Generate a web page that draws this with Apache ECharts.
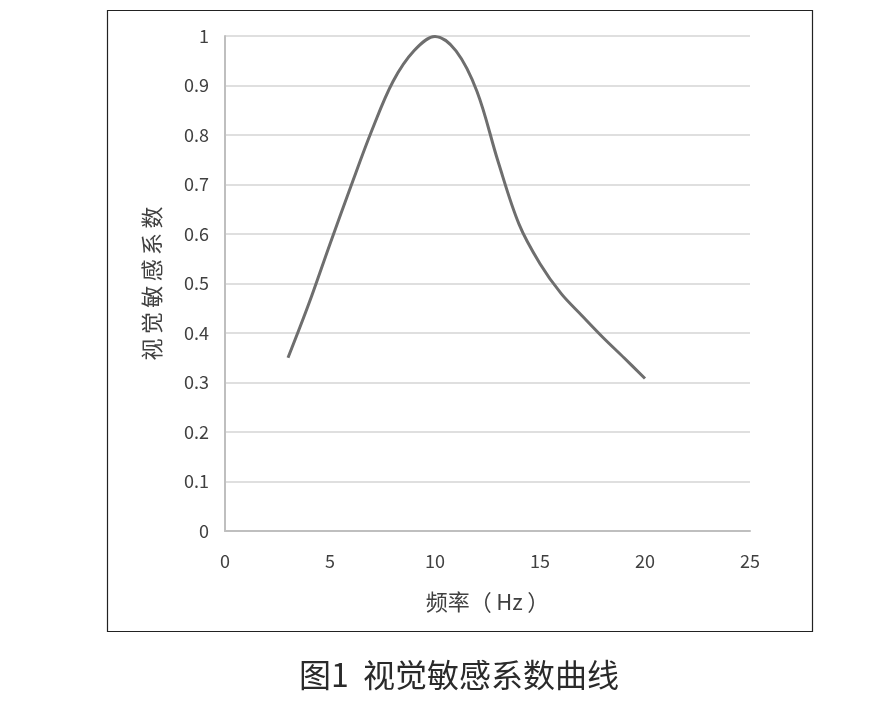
<!DOCTYPE html>
<html><head><meta charset="utf-8">
<script src="https://cdn.jsdelivr.net/npm/echarts@6/dist/echarts.min.js"></script>
<style>html,body{margin:0;padding:0;background:#fff}#c{width:890px;height:701px}</style>
</head><body><div id="c"></div>
<script>
const freq = [3, 4, 5, 6, 7, 8, 9, 10, 11, 12, 13, 14, 15, 16, 17, 18, 19, 20];
const sensitivity = [0.35, 0.46, 0.58, 0.697, 0.81, 0.908, 0.97, 0.999, 0.97, 0.888, 0.747, 0.62, 0.54, 0.48, 0.435, 0.391, 0.35, 0.308];
const xAxisName = '频率（\u2009Hz\u2009）';
const yAxisName = '视\u2009觉\u2009敏\u2009感\u2009系\u2009数';
const caption = '图1  视觉敏感系数曲线';

const chart = echarts.init(document.getElementById('c'));
const font = '"Noto Sans CJK SC", "Microsoft YaHei", sans-serif';
chart.setOption({
  backgroundColor: '#fff',
  animation: false,
  grid: { left: 225, right: 140, top: 36, bottom: 170 },
  xAxis: {
    type: 'value', min: 0, max: 25, interval: 5,
    name: xAxisName, nameLocation: 'middle', nameGap: 60,
    nameTextStyle: { fontFamily: font, fontSize: 22, color: '#404040' },
    axisLine: { show: true, lineStyle: { color: '#bfbfbf', width: 2 } },
    axisTick: { show: false },
    splitLine: { show: false },
    axisLabel: { fontFamily: font, fontSize: 18, color: '#404040', margin: 21 }
  },
  yAxis: {
    type: 'value', min: 0, max: 1, interval: 0.1,
    name: yAxisName, nameLocation: 'middle', nameGap: 62,
    nameTextStyle: { fontFamily: font, fontSize: 22, color: '#404040' },
    axisLine: { show: true, lineStyle: { color: '#bfbfbf', width: 2 } },
    axisTick: { show: false },
    splitLine: { show: true, lineStyle: { color: '#d4d4d4', width: 1.5 } },
    axisLabel: { fontFamily: font, fontSize: 18, color: '#404040', margin: 16,
      formatter: v => String(Math.round(v * 10) / 10) }
  },
  graphic: [
    { type: 'rect', shape: { x: 107.5, y: 10.5, width: 705, height: 621 },
      style: { fill: 'none', stroke: '#222', lineWidth: 1.2 }, z: 10 },
    { type: 'text', left: 299, top: 659,
      style: { text: caption, fontFamily: font, fontSize: 32, fill: '#2a2a2a' } }
  ],
  series: [{
    type: 'line', data: freq.map((f, i) => [f, sensitivity[i]]),
    smooth: 0.35, showSymbol: false,
    lineStyle: { color: '#6e6e6e', width: 3 }
  }]
});
</script></body></html>
